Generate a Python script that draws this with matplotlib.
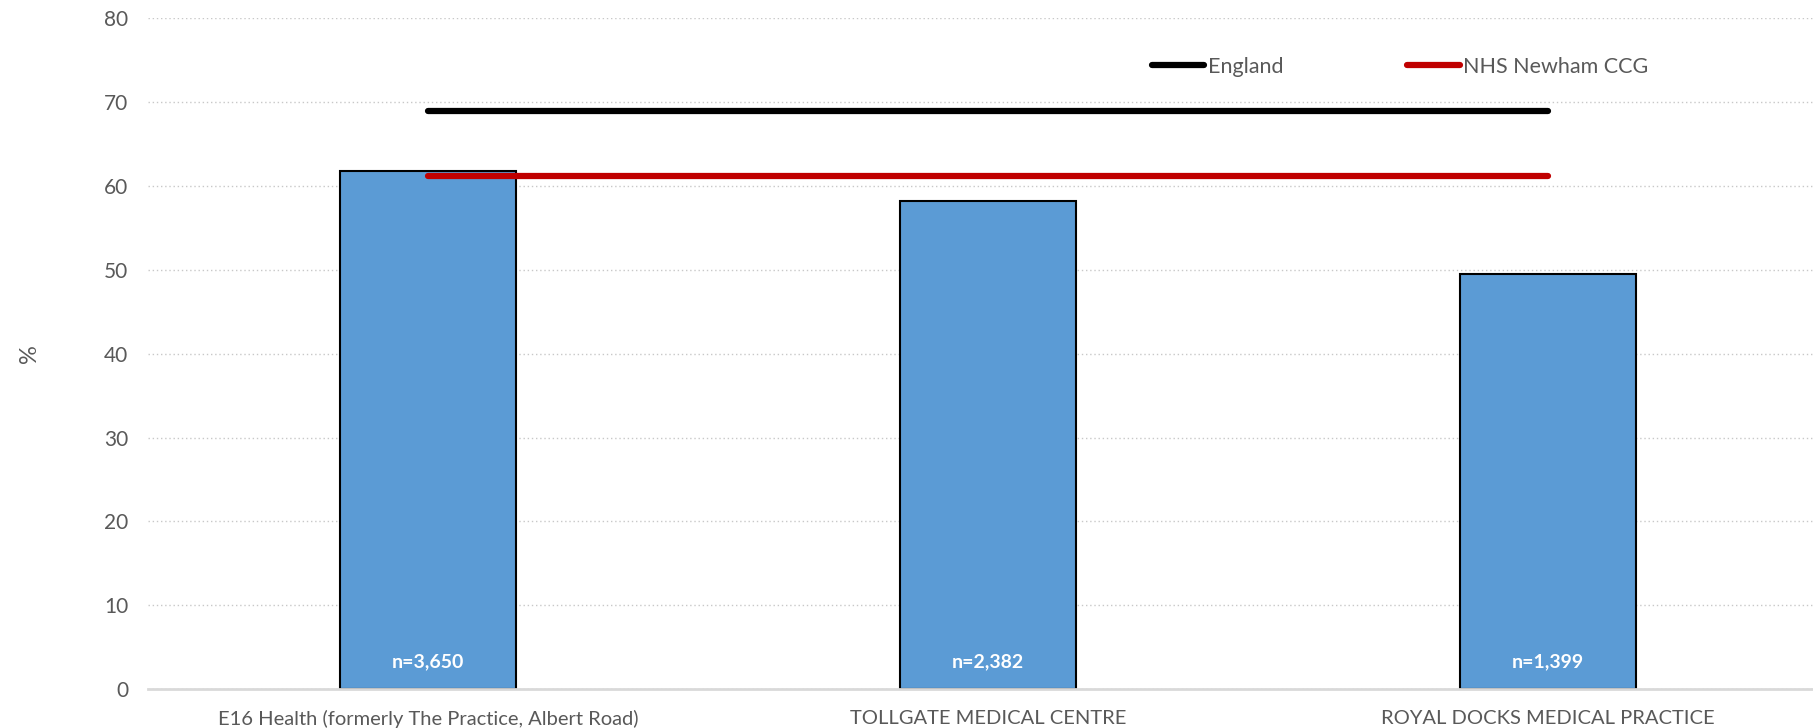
import numpy as np
import matplotlib
matplotlib.use('Agg')
from matplotlib import pyplot as plt

plt.rcParams['font.family'] = ['Lato', 'DejaVu Sans']

practices = ['E16 Health (formerly The Practice, Albert Road)',
             'TOLLGATE MEDICAL CENTRE',
             'ROYAL DOCKS MEDICAL PRACTICE']
values = [61.8, 58.2, 49.5]
counts = ['n=3,650', 'n=2,382', 'n=1,399']
england = [69.0, 69.0, 69.0]
newham = [61.2, 61.2, 61.2]

grey = '#595959'
fig = plt.figure(figsize=(18.13, 7.28), dpi=100)
ax = fig.add_axes([0.0816, 0.0536, 0.9266, 0.921])

x = np.arange(len(practices))
ax.bar(x, values, width=0.314, color='#5b9bd5', edgecolor='black', linewidth=1.5, zorder=2)
for xi, label in zip(x, counts):
    ax.text(xi, 3.2, label, ha='center', va='center', color='white',
            fontsize=14, fontweight='bold', zorder=3)

ax.plot(x, england, color='black', lw=4.5, solid_capstyle='round', label='England', zorder=4)
ax.plot(x, newham, color='#c00000', lw=4.5, solid_capstyle='round', label='NHS Newham CCG', zorder=4)

ax.set_xlim(-0.5, 2.5)
ax.set_ylim(0, 80)
ax.set_yticks(range(0, 81, 10))
ax.set_xticks(x)
ax.set_xticklabels(practices)
ax.yaxis.grid(True, linestyle=(0, (1, 2)), color='#c8c8c8', lw=1)
ax.set_axisbelow(True)
ax.tick_params(axis='y', length=0, labelsize=15, labelcolor=grey, pad=14)
ax.tick_params(axis='x', length=0, labelsize=14.5, labelcolor=grey, pad=15)
for s in ['top', 'right', 'left']:
    ax.spines[s].set_visible(False)
ax.spines['bottom'].set_color('#d9d9d9')
ax.spines['bottom'].set_linewidth(2)
ax.set_ylabel('%', fontsize=17, color=grey, labelpad=46)

leg = ax.legend(loc='center left', bbox_to_anchor=(0.586, 0.928), ncol=2, frameon=False,
                fontsize=15.5, handlelength=2.45, handletextpad=0.15, columnspacing=5.75)
for t in leg.get_texts():
    t.set_color(grey)

fig.savefig('out.png', dpi=100)
